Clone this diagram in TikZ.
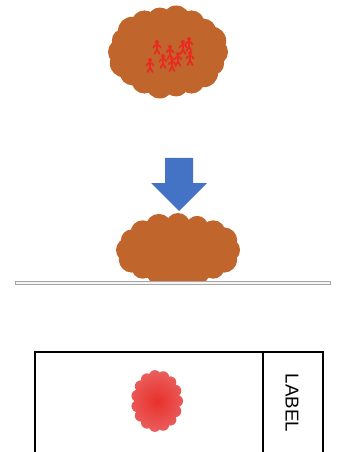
\documentclass[tikz,border=0pt]{standalone}
\usepackage{fontspec}
\setmainfont{Liberation Sans}
\definecolor{clay}{HTML}{C0652B}
\definecolor{arrowblue}{HTML}{4472C4}
\definecolor{figred}{HTML}{E82A22}
\definecolor{spotred}{HTML}{E8302A}
\definecolor{spotedge}{HTML}{EA6464}
\tikzset{
  person/.pic={
    \fill (0,0) circle (2);
    \draw (0,1.5) -- (0,7.5);
    \draw (-3.5,5.5) .. controls (-2.5,2) and (2.5,2) .. (3.5,5.5);
    \draw (0,7.5) -- (-2.5,12);
    \draw (0,7.5) -- (2.5,12);
  },
  frameline/.style={draw=black, line width=1.1pt},
}
\begin{document}
\begin{tikzpicture}[x=0.75pt, y=-0.75pt]
  \useasboundingbox (0,0) rectangle (351,452);

  % floating clump with figures
  \fill[clay] (168,52) ellipse (52 and 38);
  \foreach \a/\r in {0/13,20/12,40/14,60/13,80/12,100/14,120/13,140/12,160/14,
                     180/13,200/12,220/14,240/13,260/12,280/14,300/13,320/12,340/14}
    \fill[clay] ({168+47*cos(\a)},{52+33*sin(\a)}) circle (\r);
  \begin{scope}[figred, line width=1.3pt, line cap=round]
    \foreach \p in {(157,42),(150,60),(163,56),(170,47),(172,59),(178,54),(183,42),(189,39),(190,53)}
      \pic at \p {person};
  \end{scope}

  % downward arrow
  \fill[arrowblue] (165,158) -- (193,158) -- (193,183) -- (207,183)
    -- (179,211) -- (151,183) -- (165,183) -- cycle;

  % clump resting on the surface
  \begin{scope}
    \clip (0,0) rectangle (351,282);
    \fill[clay] (178,252) ellipse (55 and 31);
    \foreach \a/\r in {0/12,22.5/13,45/11,67.5/12,90/13,112.5/12,135/11,157.5/13,
                       180/12,202.5/11,225/12,247.5/13,270/12,292.5/11,315/12,337.5/13}
      \fill[clay] ({178+50*cos(\a)},{250+25*sin(\a)}) circle (\r);
  \end{scope}

  % surface
  \draw[draw=gray!70, fill=gray!8, line width=0.6pt] (15,281) rectangle (330,284.5);

  % imprint on the slide
  \begin{scope}
    \clip (157,401) ellipse (21 and 26)
      \foreach \a in {0,24,...,336} { ({157+20*cos(\a)},{401+25*sin(\a)}) circle (6) };
    \shade[inner color=spotred, outer color=spotedge] (157,401) circle (34);
  \end{scope}

  % slide outline
  \draw[frameline] (35,452) -- (35,352) -- (323,352) -- (323,452);
  \draw[black, line width=0.8pt] (263,352) -- (263,452);
  \node[rotate=-90, font=\fontsize{14}{16}\selectfont] (lbl) at (292,403) {LABEL};
\end{tikzpicture}
\end{document}
